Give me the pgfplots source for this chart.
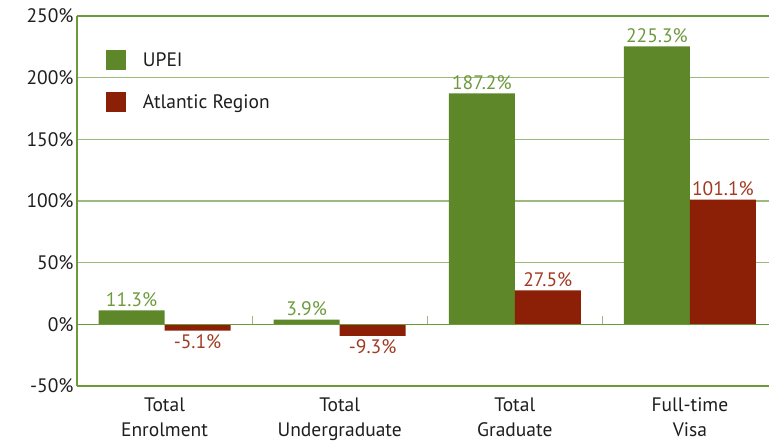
\documentclass[border=0pt]{standalone}
\usepackage{fontspec}
\setmainfont{PT Sans}
\usepackage{pgfplots}
\pgfplotsset{compat=1.18}
\definecolor{upei}{HTML}{5D8728}
\definecolor{atl}{HTML}{8B2006}
\definecolor{upeilab}{HTML}{6E9A3E}
\definecolor{atllab}{HTML}{A03A22}
\definecolor{gridg}{HTML}{9BBB7A}
\definecolor{axisg}{HTML}{6A9A3A}
\definecolor{txt}{HTML}{1E1E1E}
\begin{document}
\begin{tikzpicture}
\begin{axis}[
  at={(0,0)}, anchor=south west,
  scale only axis, width=700.5pt, height=370pt,
  xmin=-0.5, xmax=3.5, ymin=-50, ymax=250,
  ybar=0pt, bar width=66pt,
  axis x line*=bottom, axis y line*=left,
  axis line style={axisg, line width=1.2pt},
  xtick={0,1,2,3},
  xticklabels={Total\\Enrolment, Total\\Undergraduate, Total\\Graduate, Full-time\\Visa},
  xticklabel style={align=center, text=txt, yshift=-8pt, font=\fontsize{19.5}{25}\selectfont},
  ytick={-50,0,50,100,150,200,250},
  yticklabels={-50\%,0\%,50\%,100\%,150\%,200\%,250\%},
  yticklabel style={text=txt, font=\fontsize{19.5}{22}\selectfont},
  major tick length=0pt,
  ymajorgrids, grid style={gridg, line width=1.2pt},
  point meta=explicit symbolic,
  visualization depends on={y \as \rawy},
  nodes near coords,
  nodes near coords style={font=\fontsize{19.5}{22}\selectfont,
    anchor={\ifdim\rawy pt<0pt north\else south\fi}},
  legend style={at={(0.041,0.908)}, anchor=north west, draw=none, fill=none,
    font=\fontsize{19.5}{22}\selectfont, text=txt, row sep=22pt, inner sep=0pt},
  legend cell align=left,
  legend image code/.code={\fill (0pt,-10pt) rectangle (20pt,10pt);},
]
\addplot[fill=upei, draw=none, nodes near coords style={text=upeilab}] coordinates {
  (0,11.3) [11.3\%] (1,3.9) [3.9\%] (2,187.2) [187.2\%] (3,225.3) [225.3\%]};
\addplot[fill=atl, draw=none, nodes near coords style={text=atllab}] coordinates {
  (0,-5.1) [-5.1\%] (1,-9.3) [-9.3\%] (2,27.5) [27.5\%] (3,101.1) [101.1\%]};
\legend{\hspace{15pt}UPEI, \hspace{15pt}Atlantic Region}
\draw[axisg, line width=1.2pt] (axis cs:-0.5,0) -- (axis cs:3.5,0);
\draw[axisg, line width=1.2pt] (axis cs:-0.5,250) -- (axis cs:3.5,250);
\pgfplotsinvokeforeach{0.5,1.5,2.5}{\draw[gridg, line width=1.2pt] (axis cs:#1,0) -- (axis cs:#1,6.5);}
\end{axis}
\pgfresetboundingbox
\useasboundingbox (-77pt,-55pt) rectangle (692pt,386pt);
\end{tikzpicture}
\end{document}
